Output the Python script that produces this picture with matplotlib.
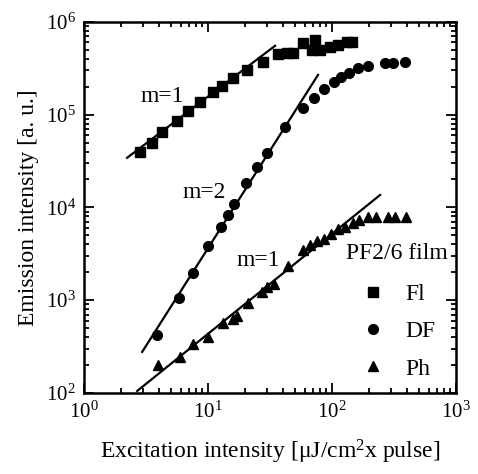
import numpy as np
import matplotlib
matplotlib.use("Agg")
import matplotlib.pyplot as plt
from matplotlib.ticker import LogLocator, NullFormatter

plt.rcParams["font.family"] = ["Liberation Serif", "DejaVu Serif"]
plt.rcParams["mathtext.fontset"] = "custom"
plt.rcParams["mathtext.rm"] = "Liberation Serif"
plt.rcParams["mathtext.it"] = "Liberation Serif:italic"

# Fluorescence (Fl) - squares
fl_x = [2.83, 3.53, 4.26, 5.62, 6.90, 8.62, 11.0, 13.0, 15.9, 20.6, 27.8,
        36.7, 43.4, 48.5, 58.4, 69.0, 72.9, 80.0, 96.3, 112, 132, 145]
fl_y = [39600, 49600, 65200, 85700, 110000, 137000, 176000, 204000, 249000,
        304000, 370000, 452000, 463000, 463000, 594000, 499000, 640000,
        499000, 538000, 565000, 609000, 609000]

# Delayed fluorescence (DF) - circles
df_x = [3.88, 5.84, 7.57, 10.0, 12.7, 14.5, 16.2, 20.2, 24.8, 29.9, 41.8,
        58.4, 71.6, 86.1, 104, 118, 137, 162, 195, 268, 310, 388]
df_y = [422, 1057, 1968, 3846, 6166, 8299, 10900, 18400, 27300, 38700, 73800,
        118000, 152000, 190000, 225000, 255000, 282000, 319000, 335000,
        361000, 361000, 370000]

# Phosphorescence (Ph) - triangles
ph_x = [3.95, 5.95, 7.57, 10.0, 13.2, 15.9, 17.1, 21.0, 27.3, 29.9, 34.1,
        44.2, 58.4, 66.5, 75.7, 86.1, 98.2, 112, 127, 148, 165, 195, 226,
        283, 322, 395]
ph_y = [200, 244, 337, 401, 569, 628, 676, 934, 1227, 1390, 1496, 2340,
        3480, 3940, 4350, 4570, 5180, 5860, 6170, 6810, 7330, 7900, 7900,
        7900, 7900, 7900]

# power-law guide lines (end points)
fit_fl_x = [2.22, 34.7]
fit_fl_y = [34200, 551000]
fit_df_x = [2.94, 77.1]
fit_df_y = [277, 268000]
fit_ph_x = [2.68, 244]
fit_ph_y = [105, 13600]

FS_TICK = 15
FS = 17

fig = plt.figure(figsize=(4.78, 4.74), dpi=100)
ax = fig.add_axes([0.176, 0.171, 0.778, 0.783])

for fx, fy in [(fit_fl_x, fit_fl_y), (fit_df_x, fit_df_y), (fit_ph_x, fit_ph_y)]:
    ax.plot(fx, fy, color="black", linewidth=1.6)

ax.plot(fl_x, fl_y, "s", color="black", markersize=6.5, label="Fl")
ax.plot(df_x, df_y, "o", color="black", markersize=7, label="DF")
ax.plot(ph_x, ph_y, "^", color="black", markersize=7.5, label="Ph")

ax.set_xscale("log")
ax.set_yscale("log")
ax.set_xlim(1, 1000)
ax.set_ylim(100, 1e6)

ax.xaxis.set_major_locator(LogLocator(base=10, numticks=10))
ax.yaxis.set_major_locator(LogLocator(base=10, numticks=10))
ax.xaxis.set_minor_locator(LogLocator(base=10, subs=np.arange(2, 10), numticks=20))
ax.yaxis.set_minor_locator(LogLocator(base=10, subs=np.arange(2, 10), numticks=20))
ax.xaxis.set_minor_formatter(NullFormatter())
ax.yaxis.set_minor_formatter(NullFormatter())

ax.tick_params(which="both", direction="in", top=True, right=True, width=1.3,
               labelsize=FS_TICK, pad=6)
ax.tick_params(which="major", length=7)
ax.tick_params(which="minor", length=3.5)
for s in ax.spines.values():
    s.set_linewidth(1.8)

ax.set_xlabel(r"Excitation intensity [$\mathrm{\mu}$J/cm$^2$x pulse]", fontsize=FS, labelpad=11)
ax.set_ylabel("Emission intensity [a. u.]", fontsize=FS, labelpad=5)

ax.text(0.21, 0.80, "m=1", transform=ax.transAxes, fontsize=FS, ha="center", va="center")
ax.text(0.323, 0.539, "m=2", transform=ax.transAxes, fontsize=FS, ha="center", va="center")
ax.text(0.468, 0.358, "m=1", transform=ax.transAxes, fontsize=FS, ha="center", va="center")
ax.text(0.84, 0.377, "PF2/6 film", transform=ax.transAxes, fontsize=FS, ha="center", va="center")

ax.legend(loc="upper left", bbox_to_anchor=(0.752, 0.295), frameon=False,
          fontsize=FS, handlelength=0.8, handletextpad=0.95, labelspacing=0.67,
          borderpad=0, borderaxespad=0, numpoints=1)

fig.savefig("out.png", dpi=100)
